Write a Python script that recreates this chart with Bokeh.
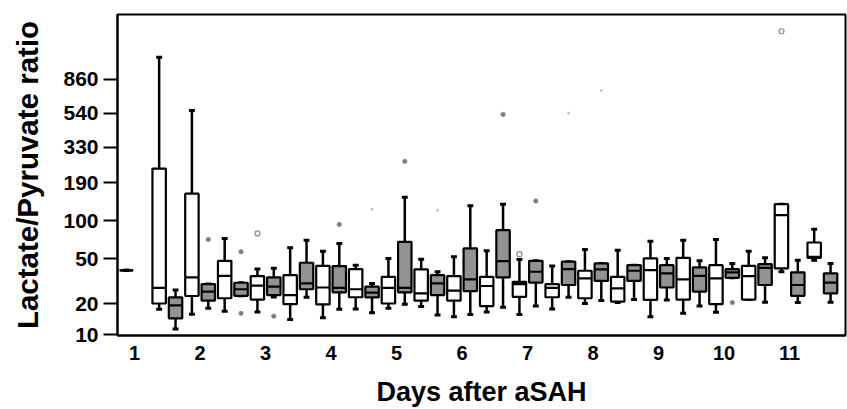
import numpy as np
from bokeh.plotting import figure
from bokeh.models import Range1d, FixedTicker, ColumnDataSource
from bokeh.embed import file_html
from bokeh.resources import INLINE

# 6-hour periods after aSAH (period 0 = first 6 h of day 1)
period = [0, 2, 3, 4, 5, 6, 7, 8, 9, 10, 11, 12, 13, 14, 15, 16, 17, 18, 19, 20, 21,
          22, 23, 24, 25, 26, 27, 28, 29, 30, 31, 32, 33, 34, 35, 36, 37, 38, 39, 40,
          41, 42, 43]
whisker_hi = [40, 1143, 26.9, 562, 30.4, 73.2, 31.2, 41.0, 41.6, 61.6, 71.0, 57.9, 66.8,
              44.3, 30.8, 50.4, 149.6, 49.7, 38.9, 52.0, 129.7, 58.2, 133.5, 49.4, 48.2,
              43.5, 47.4, 59.8, 45.8, 59.0, 44.3, 69.7, 50.4, 71.0, 48.2, 71.9, 45.8,
              57.9, 51.0, 133.5, 48.8, 86.5, 45.8]
q3 = [40, 238, 23.0, 159, 30.4, 48.2, 31.2, 35.7, 34.8, 36.4, 46.4, 43.7, 43.5, 41.0,
      28.8, 35.2, 68.8, 40.8, 36.4, 35.7, 60.9, 35.2, 85.0, 31.8, 48.2, 30.4, 47.4, 39.7,
      45.8, 35.2, 44.3, 50.4, 44.3, 51.0, 42.4, 44.3, 41.0, 43.7, 45.2, 133.5, 38.5,
      68.0, 37.7]
median = [40, 28.1, 19.4, 34.8, 26.0, 35.9, 27.3, 29.4, 28.8, 24.2, 30.8, 28.3, 28.1,
          27.3, 25.5, 28.1, 28.1, 25.1, 30.8, 26.5, 33.4, 29.2, 47.9, 30.4, 38.9, 28.1,
          41.0, 34.1, 40.8, 27.8, 39.7, 40.2, 37.7, 33.4, 35.9, 34.1, 38.5, 35.7, 42.0,
          110.6, 29.8, 52.0, 31.3]
q1 = [40, 20.2, 14.6, 23.7, 21.5, 22.6, 23.8, 22.0, 24.2, 19.9, 27.3, 19.8, 25.6, 23.1,
      23.0, 20.2, 25.6, 21.5, 24.2, 21.5, 26.3, 19.1, 34.8, 23.3, 31.3, 23.1, 29.8, 22.6,
      32.4, 21.0, 32.4, 21.8, 28.3, 22.0, 26.0, 19.9, 34.5, 22.0, 29.8, 41.6, 23.8,
      51.0, 25.1]
whisker_lo = [40, 17.8, 11.4, 16.0, 18.2, 17.1, 23.8, 16.8, 23.2, 14.2, 23.1, 14.8, 17.8,
              17.9, 16.5, 18.2, 19.9, 18.9, 15.7, 15.1, 15.9, 16.8, 18.6, 15.9, 19.1, 17.9,
              23.1, 20.2, 21.5, 20.6, 22.0, 15.1, 21.8, 16.3, 19.1, 16.7, 34.5, 22.0, 20.8,
              38.9, 20.6, 48.8, 20.8]

outlier_period = [5, 7, 7, 8, 9, 13, 15, 17, 19, 23, 24, 25, 27, 29, 37, 40]
outlier_value = [71.9, 57.2, 16.3, 80.2, 15.3, 94.2, 122.6, 266, 120.5, 531, 54.7, 140.8,
                 541, 739, 20.6, 1580]
outlier_kind = ["outlier", "outlier", "outlier", "open", "outlier", "outlier", "faint",
                "outlier", "faint", "outlier", "open", "outlier", "faint", "faint",
                "outlier", "open"]

day_ticks = [1, 2, 3, 4, 5, 6, 7, 8, 9, 10, 11]
y_tick_values = [10, 20, 50, 100, 190, 330, 540, 860]

LAM = 0.13


def tr(v):
    return np.power(np.asarray(v, dtype=float), LAM)


def day_of(per):
    return 0.875 + np.asarray(per, dtype=float) / 4.0


x = day_of(period)
fills = ["white" if p % 2 == 0 else "#929292" for p in period]
src = ColumnDataSource(dict(
    x=x, top=tr(q3), bottom=tr(q1), med=tr(median), whi=tr(whisker_hi),
    wlo=tr(whisker_lo), fill=fills,
))

p = figure(width=847, height=409, output_backend="svg", toolbar_location=None,
           x_range=Range1d(0.739, 11.853), y_range=Range1d(1.3457, 2.6744),
           min_border_left=117, min_border_right=2, min_border_top=14,
           min_border_bottom=73)
p.background_fill_color = "white"
p.border_fill_color = "white"
p.outline_line_color = "black"
p.outline_line_width = 2
p.xgrid.visible = False
p.ygrid.visible = False

BW = 0.205
CAP = 0.045

# whiskers
p.segment(x0="x", x1="x", y0="top", y1="whi", source=src, line_color="black", line_width=2.5)
p.segment(x0="x", x1="x", y0="bottom", y1="wlo", source=src, line_color="black", line_width=2.5)
# caps
cx0 = x - CAP
cx1 = x + CAP
capsrc = ColumnDataSource(dict(x0=cx0, x1=cx1, whi=tr(whisker_hi), wlo=tr(whisker_lo)))
p.segment(x0="x0", x1="x1", y0="whi", y1="whi", source=capsrc, line_color="black", line_width=3)
p.segment(x0="x0", x1="x1", y0="wlo", y1="wlo", source=capsrc, line_color="black", line_width=3)
# boxes
p.vbar(x="x", width=BW, top="top", bottom="bottom", source=src, fill_color="fill",
       line_color="black", line_width=2.2)
# medians
medsrc = ColumnDataSource(dict(x0=x - BW / 2, x1=x + BW / 2, y=tr(median)))
p.segment(x0="x0", x1="x1", y0="y", y1="y", source=medsrc, line_color="black", line_width=2.2)

# outliers
ox = day_of(outlier_period)
oy = tr(outlier_value)
kinds = np.array(outlier_kind)
m = kinds == "outlier"
p.scatter(ox[m], oy[m], marker="circle", size=4.5, fill_color="#7a7a7a", line_color="#9a9a9a",
          line_width=0.8)
m = kinds == "open"
p.scatter(ox[m], oy[m], marker="circle", size=5, fill_color="white", line_color="#8a8a8a",
          line_width=1.2)
m = kinds == "faint"
p.scatter(ox[m], oy[m], marker="circle", size=3, fill_color="#c4c4c4", line_color=None)

FONT = "Liberation Sans, Arial, sans-serif"

yax = p.yaxis[0]
yax.ticker = FixedTicker(ticks=[float(t) for t in tr(y_tick_values)])
yax.major_label_overrides = {float(t): str(v) for t, v in zip(tr(y_tick_values), y_tick_values)}
yax.minor_tick_line_color = None
yax.major_tick_in = 0
yax.major_tick_out = 14
yax.major_tick_line_width = 2
yax.axis_line_width = 2
yax.major_label_text_font = FONT
yax.major_label_text_font_style = "bold"
yax.major_label_text_font_size = "21px"
yax.major_label_text_color = "black"
yax.major_label_standoff = 5
yax.axis_label = "Lactate/Pyruvate ratio"
yax.axis_label_text_font = FONT
yax.axis_label_text_font_style = "bold"
yax.axis_label_text_font_size = "29.5px"
yax.axis_label_text_color = "black"
yax.axis_label_standoff = 16

xax = p.xaxis[0]
xax.ticker = FixedTicker(ticks=day_ticks)
xax.minor_tick_line_color = None
xax.major_tick_line_color = None
xax.major_tick_in = 0
xax.major_tick_out = 0
xax.axis_line_width = 2
xax.major_label_text_font = FONT
xax.major_label_text_font_style = "bold"
xax.major_label_text_font_size = "20px"
xax.major_label_text_color = "black"
xax.major_label_standoff = 10
xax.axis_label = "Days after aSAH"
xax.axis_label_text_font = FONT
xax.axis_label_text_font_style = "bold"
xax.axis_label_text_font_size = "27px"
xax.axis_label_text_color = "black"
xax.axis_label_standoff = 14

open("out.html", "w").write(file_html(p, INLINE))
